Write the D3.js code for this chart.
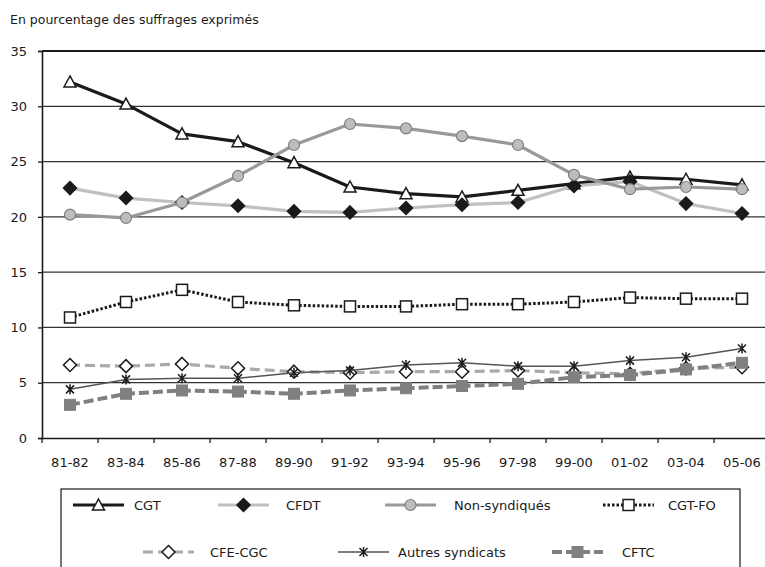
<!DOCTYPE html>
<html><head><meta charset="utf-8">
<script src="https://cdn.jsdelivr.net/npm/d3@7"></script>
<style>
body{margin:0;background:#fff}
text{font-family:"DejaVu Sans",sans-serif;fill:#1a1a1a}
</style></head>
<body><svg id="c" width="765" height="567"></svg>
<script>
const categories = ["81-82","83-84","85-86","87-88","89-90","91-92","93-94","95-96","97-98","99-00","01-02","03-04","05-06"];
const yTicks = [0,5,10,15,20,25,30,35];
const seriesNames = ["CGT","CFDT","Non-syndiqués","CGT-FO","CFE-CGC","Autres syndicats","CFTC"];
const cgt   = [32.2,30.2,27.5,26.8,24.9,22.7,22.1,21.8,22.4,23.0,23.6,23.4,22.9];
const cfdt  = [22.6,21.7,21.3,21.0,20.5,20.4,20.8,21.1,21.3,22.8,23.2,21.2,20.3];
const nonsyn= [20.2,19.9,21.3,23.7,26.5,28.4,28.0,27.3,26.5,23.8,22.5,22.7,22.5];
const cgtfo = [10.9,12.3,13.4,12.3,12.0,11.9,11.9,12.1,12.1,12.3,12.7,12.6,12.6];
const cfecgc= [6.6,6.5,6.7,6.3,6.0,5.9,6.0,6.0,6.1,5.9,5.8,6.3,6.4];
const autres= [4.4,5.3,5.4,5.4,5.9,6.1,6.6,6.8,6.5,6.5,7.0,7.3,8.1];
const cftc  = [3.0,4.0,4.3,4.2,4.0,4.3,4.5,4.7,4.9,5.5,5.7,6.2,6.8];

const styles = [
  {line:"#1a1a1a", w:3.2, dash:null, marker:"tri", fill:"#fff", stroke:"#1a1a1a"},
  {line:"#c0c0c0", w:3.2, dash:null, marker:"dia", fill:"#1a1a1a", stroke:"#1a1a1a"},
  {line:"#999999", w:3.2, dash:null, marker:"circ", fill:"#bdbdbd", stroke:"#808080"},
  {line:"#1a1a1a", w:3, dash:"2.5,2", marker:"sq", fill:"#fff", stroke:"#1a1a1a"},
  {line:"#aaaaaa", w:3.2, dash:"10,5", marker:"dia", fill:"#fff", stroke:"#1a1a1a"},
  {line:"#555555", w:1.5, dash:null, marker:"star", fill:"#1a1a1a", stroke:"#1a1a1a"},
  {line:"#808080", w:4, dash:"10,4", marker:"fsq", fill:"#808080", stroke:"#808080"}
];
const data = [cgt,cfdt,nonsyn,cgtfo,cfecgc,autres,cftc];

const svg = d3.select("#c");
const x = d3.scaleBand().domain(categories).range([42,770]);
const y = d3.scaleLinear().domain([0,35]).range([438,51]);

svg.append("text").attr("x",10).attr("y",24).attr("font-size",12.5).text("En pourcentage des suffrages exprimés");

// gridlines
svg.append("g").selectAll("line").data(yTicks.filter(d=>d>0)).join("line")
  .attr("x1",42).attr("x2",765).attr("y1",d=>y(d)).attr("y2",d=>y(d))
  .attr("stroke",d=>d===35?"#1a1a1a":"#333").attr("stroke-width",d=>d===35?2:1.3);

// y axis
const ya = svg.append("g").attr("transform","translate(42,0)")
  .call(d3.axisLeft(y).tickValues(yTicks).tickSize(4).tickPadding(11));
ya.select(".domain").attr("stroke","#1a1a1a").attr("stroke-width",1.6);
ya.selectAll(".tick line").attr("stroke","#1a1a1a").attr("stroke-width",1.3);
ya.selectAll("text").attr("font-size",13).style("font-family","DejaVu Sans").attr("fill","#1a1a1a");

// x axis
const xa = svg.append("g").attr("transform","translate(0,438)")
  .call(d3.axisBottom(x).tickSize(0).tickPadding(20));
xa.select(".domain").attr("stroke","#1a1a1a").attr("stroke-width",1.6);
xa.selectAll("text").attr("font-size",13).style("font-family","DejaVu Sans").attr("fill","#1a1a1a");
svg.append("g").selectAll("line").data(categories).join("line")
  .attr("x1",d=>x(d)).attr("x2",d=>x(d)).attr("y1",438).attr("y2",443)
  .attr("stroke","#1a1a1a").attr("stroke-width",1.3);

function drawMarker(g, type, cx, cy, st){
  if(type==="tri"){
    g.append("path").attr("d",`M${cx},${cy-6}L${cx+6},${cy+5}L${cx-6},${cy+5}Z`)
      .attr("fill",st.fill).attr("stroke",st.stroke).attr("stroke-width",1.5);
  } else if(type==="dia"){
    g.append("path").attr("d",`M${cx},${cy-6.5}L${cx+6.5},${cy}L${cx},${cy+6.5}L${cx-6.5},${cy}Z`)
      .attr("fill",st.fill).attr("stroke",st.stroke).attr("stroke-width",1.5);
  } else if(type==="circ"){
    g.append("circle").attr("cx",cx).attr("cy",cy).attr("r",5.5)
      .attr("fill",st.fill).attr("stroke",st.stroke).attr("stroke-width",1.2);
  } else if(type==="sq"){
    g.append("rect").attr("x",cx-5.5).attr("y",cy-5.5).attr("width",11).attr("height",11)
      .attr("fill",st.fill).attr("stroke",st.stroke).attr("stroke-width",1.5);
  } else if(type==="fsq"){
    g.append("rect").attr("x",cx-5.5).attr("y",cy-5.5).attr("width",11).attr("height",11)
      .attr("fill",st.fill).attr("stroke",st.stroke).attr("stroke-width",1);
  } else if(type==="star"){
    const r=4;
    g.append("path").attr("d",`M${cx-r},${cy-r}L${cx+r},${cy+r}M${cx-r},${cy+r}L${cx+r},${cy-r}M${cx},${cy-r-1}L${cx},${cy+r+1}`)
      .attr("stroke",st.stroke).attr("stroke-width",1.5).attr("fill","none");
  }
}

const line = d3.line().x((d,i)=>x(categories[i])+x.bandwidth()/2).y(d=>y(d));
data.forEach((vals,si)=>{
  const st = styles[si];
  const g = svg.append("g");
  g.append("path").attr("d",line(vals)).attr("fill","none").attr("stroke",st.line)
    .attr("stroke-width",st.w).attr("stroke-dasharray",st.dash).attr("stroke-linejoin","round");
  vals.forEach((v,i)=>drawMarker(g, st.marker, x(categories[i])+x.bandwidth()/2, y(v), st));
});

// legend
svg.append("rect").attr("x",61).attr("y",489).attr("width",679).attr("height",90)
  .attr("fill","none").attr("stroke","#1a1a1a").attr("stroke-width",1.2);
const legPos = [
  {sx:73, tx:134, cy:505},{sx:218, tx:286, cy:505},{sx:385, tx:454, cy:505},{sx:603, tx:668, cy:505},
  {sx:143, tx:210, cy:552},{sx:338, tx:398, cy:552},{sx:552, tx:622, cy:552}
];
seriesNames.forEach((n,si)=>{
  const st = styles[si], p = legPos[si];
  const g = svg.append("g");
  g.append("line").attr("x1",p.sx).attr("x2",p.sx+51).attr("y1",p.cy).attr("y2",p.cy)
    .attr("stroke",st.line).attr("stroke-width",st.w).attr("stroke-dasharray",st.dash);
  drawMarker(g, st.marker, p.sx+25.5, p.cy, st);
  g.append("text").attr("x",p.tx).attr("y",p.cy+5).attr("font-size",13).text(n);
});
</script></body></html>
